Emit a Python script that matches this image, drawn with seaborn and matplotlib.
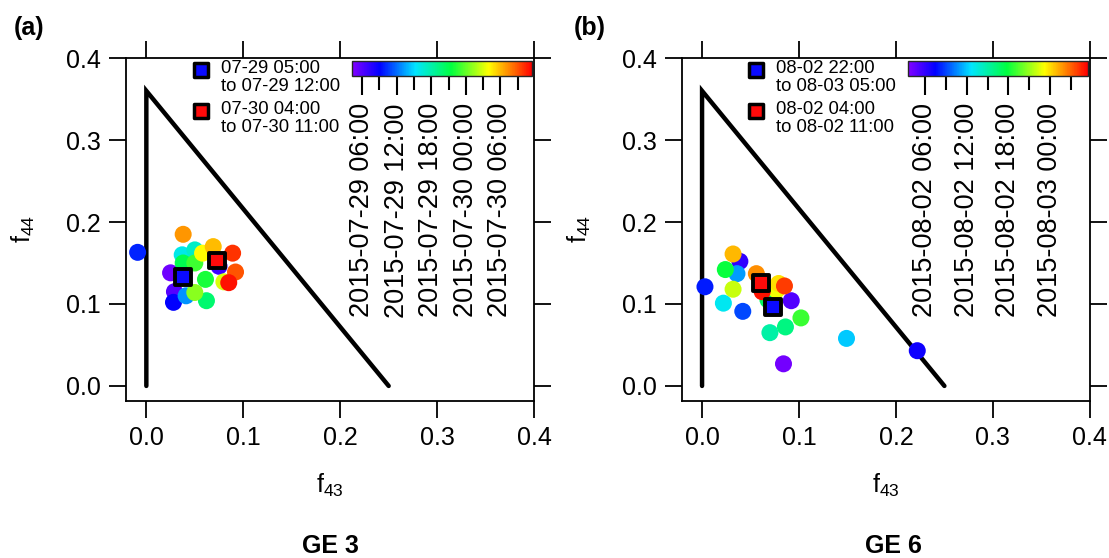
import numpy as np
import pandas as pd
import matplotlib
matplotlib.use("Agg")
import matplotlib.pyplot as plt
import matplotlib.dates as mdates
from matplotlib.colors import LinearSegmentedColormap, Normalize
from matplotlib.cm import ScalarMappable
import seaborn as sns

sns.set_style("ticks")
plt.rcParams['font.family'] = ['Liberation Sans', 'DejaVu Sans']
plt.rcParams['mathtext.fontset'] = 'custom'
plt.rcParams['mathtext.rm'] = 'Liberation Sans'
plt.rcParams['mathtext.default'] = 'regular'
plt.rcParams['text.color'] = 'black'
plt.rcParams['axes.labelcolor'] = 'black'
plt.rcParams['xtick.color'] = 'black'
plt.rcParams['ytick.color'] = 'black'

# ---- GE 3 (panel a) ----
ge3_f43 = [-0.009, 0.038, 0.037, 0.050, 0.069, 0.058, 0.089, 0.038, 0.050, 0.075,
           0.092, 0.025, 0.061, 0.080, 0.085, 0.029, 0.041, 0.050, 0.028, 0.062]
ge3_f44 = [0.163, 0.185, 0.160, 0.166, 0.170, 0.162, 0.162, 0.150, 0.150, 0.146,
           0.139, 0.138, 0.130, 0.127, 0.126, 0.115, 0.110, 0.114, 0.102, 0.104]
ge3_time = ["2015-07-29 10:00", "2015-07-30 07:00", "2015-07-29 16:00", "2015-07-29 17:00",
            "2015-07-30 06:00", "2015-07-30 04:00", "2015-07-30 10:00", "2015-07-29 21:00",
            "2015-07-29 23:00", "2015-07-29 07:00", "2015-07-30 09:00", "2015-07-29 05:00",
            "2015-07-29 22:00", "2015-07-30 03:00", "2015-07-30 11:00", "2015-07-29 06:00",
            "2015-07-29 13:00", "2015-07-30 01:00", "2015-07-29 09:00", "2015-07-29 20:00"]
ge3_cbar_range = ["2015-07-29 04:20", "2015-07-30 11:30"]
ge3_sq_f43 = [0.038, 0.073]
ge3_sq_f44 = [0.133, 0.153]
ge3_sq_labels = ["07-29 05:00\nto 07-29 12:00", "07-30 04:00\nto 07-30 11:00"]

# ---- GE 6 (panel b) ----
ge6_f43 = [0.032, 0.039, 0.024, 0.036, 0.003, 0.056, 0.032, 0.079, 0.085, 0.062,
           0.068, 0.077, 0.092, 0.022, 0.042, 0.102, 0.086, 0.070, 0.084, 0.149, 0.222]
ge6_f44 = [0.161, 0.152, 0.142, 0.137, 0.121, 0.137, 0.118, 0.125, 0.122, 0.115,
           0.105, 0.117, 0.104, 0.101, 0.091, 0.083, 0.072, 0.065, 0.027, 0.058, 0.043]
ge6_time = ["2015-08-03 01:00", "2015-08-02 06:00", "2015-08-02 18:00", "2015-08-02 11:00",
            "2015-08-02 08:00", "2015-08-03 02:00", "2015-08-02 22:00", "2015-08-03 00:00",
            "2015-08-03 04:00", "2015-08-03 05:00", "2015-08-02 17:00", "2015-08-02 23:00",
            "2015-08-02 05:00", "2015-08-02 13:00", "2015-08-02 09:00", "2015-08-02 19:00",
            "2015-08-02 16:00", "2015-08-02 15:00", "2015-08-02 04:00", "2015-08-02 12:00",
            "2015-08-02 07:00"]
ge6_cbar_range = ["2015-08-02 03:30", "2015-08-03 05:30"]
ge6_sq_f43 = [0.073, 0.061]
ge6_sq_f44 = [0.096, 0.126]
ge6_sq_labels = ["08-02 22:00\nto 08-03 05:00", "08-02 04:00\nto 08-02 11:00"]

# triangle (Ng et al.)
tri_f43 = [0.0, 0.0, 0.25]
tri_f44 = [0.0, 0.36, 0.0]

sq_colors = ["#0a0aff", "#ff0a0a"]
ticks = [0.0, 0.1, 0.2, 0.3, 0.4]

cmap = LinearSegmentedColormap.from_list(
    "igor_rainbow",
    [(0.0, "#8000ff"), (0.15, "#0000ff"), (0.35, "#00e5ff"), (0.55, "#00ff40"),
     (0.76, "#ffff00"), (0.88, "#ff8000"), (1.0, "#ff0000")])

fig = plt.figure(figsize=(11.09, 5.58), dpi=100)
ax_a = fig.add_axes([0.1136, 0.2819, 0.368, 0.614])
ax_b = fig.add_axes([0.6147, 0.2819, 0.368, 0.614])


def draw_panel(ax, f43, f44, times, cbar_range, sq_f43, sq_f44, sq_labels):
    df = pd.DataFrame({"f43": f43, "f44": f44, "t": pd.to_datetime(times)})
    df = df.sort_values("t")
    df["tnum"] = mdates.date2num(df["t"])
    lims = mdates.date2num(pd.to_datetime(cbar_range))
    norm = Normalize(vmin=lims[0], vmax=lims[1])

    ax.plot(tri_f43, tri_f44, color="black", lw=3.2, solid_joinstyle="miter", zorder=1)
    sns.scatterplot(data=df, x="f43", y="f44", hue="tnum", palette=cmap, hue_norm=norm,
                    s=150, linewidth=0, legend=False, ax=ax, zorder=2)
    sq = pd.DataFrame({"f43": sq_f43, "f44": sq_f44, "lab": sq_labels})
    sns.scatterplot(data=sq, x="f43", y="f44", hue="lab", palette=sq_colors, marker="s",
                    s=130, edgecolor="black", linewidth=2.8, legend=False, ax=ax, zorder=3)

    ax.set_xlim(-0.021, 0.4)
    ax.set_ylim(-0.018, 0.4)
    ax.set_xticks(ticks)
    ax.set_yticks(ticks)
    ax.set_xticklabels([f"{t:.1f}" for t in ticks])
    ax.set_yticklabels([f"{t:.1f}" for t in ticks])
    for s in ax.spines.values():
        s.set_visible(True)
        s.set_linewidth(1.3)
        s.set_color("black")
    ax.tick_params(top=True, right=True, labeltop=False, labelright=False,
                   direction="out", length=12, width=1.3, labelsize=18, pad=6)
    ax.set_xlabel("f$_{43}$", fontsize=18, labelpad=16)
    ax.set_ylabel("f$_{44}$", fontsize=18, labelpad=21)

    # legend for the averaged periods
    for i, (lab, c) in enumerate(zip(sq_labels, sq_colors)):
        y = 0.965 - i * 0.12
        ax.scatter([0.183], [y], marker="s", s=100, color=c, edgecolor="black",
                   linewidth=2.5, transform=ax.transAxes, clip_on=False, zorder=5)
        ax.text(0.232, y + 0.03, lab, transform=ax.transAxes, fontsize=13.3,
                va="top", ha="left", linespacing=1.12)

    # colorbar
    cax = ax.inset_axes([0.555, 0.9475, 0.44, 0.044])
    cb = fig.colorbar(ScalarMappable(norm=norm, cmap=cmap), cax=cax, orientation="horizontal")
    cb.locator = mdates.HourLocator(byhour=[0, 6, 12, 18])
    cb.minorlocator = mdates.HourLocator(byhour=[3, 9, 15, 21])
    cb.formatter = mdates.DateFormatter("%Y-%m-%d %H:%M")
    cb.outline.set_linewidth(1.0)
    cax.tick_params(axis="x", which="major", length=13.5, width=1.5, labelsize=19.5,
                    labelrotation=90, pad=6, direction="out")
    cax.tick_params(axis="x", which="minor", length=10, width=1.5, direction="out")
    return cb


draw_panel(ax_a, ge3_f43, ge3_f44, ge3_time, ge3_cbar_range, ge3_sq_f43, ge3_sq_f44, ge3_sq_labels)
draw_panel(ax_b, ge6_f43, ge6_f44, ge6_time, ge6_cbar_range, ge6_sq_f43, ge6_sq_f44, ge6_sq_labels)

fig.text(29 / 1109, 1 - 28 / 558, "(a)", fontsize=18, weight="bold", ha="center", va="center")
fig.text(590 / 1109, 1 - 28 / 558, "(b)", fontsize=18, weight="bold", ha="center", va="center")
fig.text(330 / 1109, 1 - 546 / 558, "GE 3", fontsize=18, weight="bold", ha="center", va="center")
fig.text(893 / 1109, 1 - 546 / 558, "GE 6", fontsize=18, weight="bold", ha="center", va="center")

fig.savefig("out.png", dpi=100)
